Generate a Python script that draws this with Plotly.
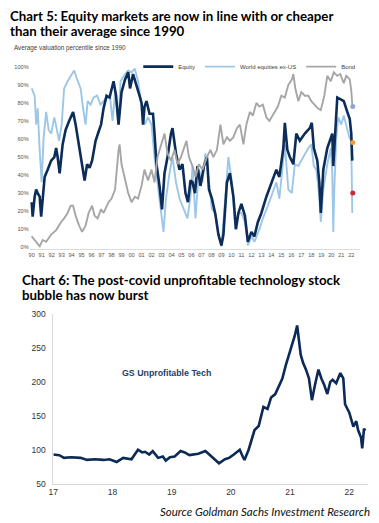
import plotly.graph_objects as go

W, H = 379, 523

# ---------------- Chart 5 data (valuation percentile, %) ----------------
eq_x = [1990.0, 1990.1, 1990.3, 1990.45, 1990.6, 1990.8, 1990.95, 1991.1, 1991.3, 1991.6, 1991.95,
        1992.27, 1992.45, 1992.6, 1992.8, 1993.1, 1993.4, 1993.75, 1994.15, 1994.4, 1994.75,
        1995.05, 1995.3, 1995.55, 1995.8, 1996.05, 1996.4, 1996.7, 1996.95, 1997.2, 1997.5,
        1997.8, 1998.2, 1998.45, 1998.7, 1999.0, 1999.35, 1999.67, 1999.85, 2000.15, 2000.5,
        2000.8, 2001.0, 2001.15, 2001.3, 2001.5, 2001.8, 2002.15, 2002.3, 2002.5, 2002.8,
        2003.05, 2003.3, 2003.6, 2003.95, 2004.1, 2004.45, 2004.8, 2005.1, 2005.4, 2005.65,
        2005.9, 2006.1, 2006.35, 2006.6, 2006.9, 2007.25, 2007.55, 2007.75, 2008.05, 2008.4,
        2008.7, 2009.0, 2009.2, 2009.55, 2009.85, 2010.2, 2010.45, 2010.7, 2011.0, 2011.35,
        2011.65, 2012.0, 2012.3, 2012.65, 2013.0, 2013.5, 2014.0, 2014.5, 2014.8, 2015.2,
        2015.35, 2015.6, 2015.85, 2016.2, 2016.5, 2016.85, 2017.35, 2017.85, 2018.05, 2018.25,
        2018.6, 2018.8, 2018.95, 2019.2, 2019.6, 2019.95, 2020.1, 2020.2, 2020.3, 2020.45,
        2020.6, 2020.95, 2021.25, 2021.6, 2021.85, 2022.0, 2022.1]
eq_y = [25, 17, 28, 32, 30, 28, 17, 25, 39, 43, 48,
        50, 55, 50, 41, 57, 65, 70, 75, 68, 55,
        45, 37, 46, 44, 48, 59, 64, 68, 77, 84,
        83, 92, 84, 68, 86, 93, 97, 88, 96, 90,
        84, 80, 68, 78, 81, 74, 74, 63, 46, 34,
        21, 41, 50, 63, 66, 52, 43, 46, 30, 25,
        37, 36, 30, 45, 34, 45, 50, 32, 27, 18,
        7, 1, 7, 36, 41, 28, 10, 19, 24, 17.5,
        3, 8.5, 6, 14, 19, 28, 36, 43, 39, 55,
        69, 54, 50, 46, 63, 59, 63, 66, 69, 55,
        48, 36, 19, 43, 55, 61, 63, 45, 55, 75,
        83, 82, 81, 75, 71, 63, 48]

wx_x = [1990.0, 1990.3, 1990.45, 1990.6, 1990.8, 1991.0, 1991.2, 1991.45, 1991.7, 1991.95,
        1992.27, 1992.55, 1992.75, 1993.0, 1993.25, 1993.6, 1993.9, 1994.25, 1994.55, 1994.9,
        1995.15, 1995.4, 1995.6, 1995.9, 1996.2, 1996.55, 1996.9, 1997.2, 1997.5, 1997.85,
        1998.1, 1998.35, 1998.7, 1998.9, 1999.35, 1999.67, 2000.0, 2000.33, 2000.65, 2001.0,
        2001.3, 2001.65, 2002.0, 2002.3, 2002.6, 2002.95, 2003.2, 2003.45, 2003.8, 2004.1,
        2004.45, 2004.8, 2005.1, 2005.4, 2005.6, 2005.9, 2006.1, 2006.4, 2006.75, 2007.1,
        2007.4, 2007.75, 2008.05, 2008.4, 2008.7, 2009.0, 2009.4, 2009.7, 2010.05, 2010.4,
        2010.7, 2011.0, 2011.35, 2011.65, 2012.0, 2012.3, 2012.8, 2013.15, 2013.65, 2014.15,
        2014.5, 2014.8, 2015.2, 2015.35, 2015.7, 2016.05, 2016.35, 2016.7, 2017.2, 2017.7,
        2018.0, 2018.25, 2018.5, 2018.8, 2018.95, 2019.2, 2019.6, 2019.95, 2020.1, 2020.2,
        2020.3, 2020.5, 2020.7, 2021.0, 2021.25, 2021.55, 2021.8, 2022.0, 2022.1]
wx_y = [88, 84, 68, 77, 54, 36, 61, 75, 65, 63,
        72, 63, 59, 68, 88, 92, 95, 98, 93, 88,
        77, 68, 81, 79, 83, 84, 79, 81, 83, 83,
        70, 86, 68, 92, 96, 98, 97, 99, 92, 79,
        68, 72, 68, 50, 36, 21, 8.5, 27, 41, 50,
        36, 27, 23, 19, 16, 28, 45, 16, 43, 36,
        52, 37, 21, 19, 7, 0.5, 32, 50, 36, 10,
        19, 19, 14, 1, 6, 3, 10, 16, 23, 30,
        36, 27, 48, 57, 32, 30, 46, 45, 50, 55,
        57, 45, 43, 28, 14, 32, 46, 55, 41, 8.5,
        32, 61, 72, 68, 73, 66, 61, 59, 19]

bd_x = [1990.0, 1990.45, 1990.8, 1991.1, 1991.45, 1991.95, 1992.45, 1992.95, 1993.25, 1993.6,
        1993.9, 1994.15, 1994.4, 1994.75, 1995.05, 1995.4, 1995.7, 1996.05, 1996.3, 1996.6,
        1996.95, 1997.2, 1997.7, 1998.0, 1998.35, 1998.7, 1998.8, 1999.0, 1999.35, 1999.67,
        2000.0, 2000.33, 2000.65, 2001.0, 2001.3, 2001.65, 2002.0, 2002.3, 2002.6, 2002.95,
        2003.3, 2003.6, 2003.95, 2004.3, 2004.6, 2004.95, 2005.25, 2005.5, 2005.75, 2006.1,
        2006.4, 2006.75, 2007.1, 2007.55, 2007.9, 2008.2, 2008.55, 2008.9, 2009.2, 2009.55,
        2009.85, 2010.2, 2010.55, 2010.85, 2011.2, 2011.5, 2011.85, 2012.15, 2012.5, 2012.8,
        2013.15, 2013.5, 2013.8, 2014.15, 2014.65, 2015.0, 2015.35, 2015.7, 2016.05, 2016.2,
        2016.4, 2016.7, 2017.0, 2017.35, 2017.7, 2018.0, 2018.3, 2018.65, 2018.95, 2019.3,
        2019.6, 2019.95, 2020.25, 2020.6, 2020.9, 2021.25, 2021.5, 2021.85, 2022.0, 2022.1]
bd_y = [6, 3, 0.5, 4, 3, 7, 9.5, 14, 16, 19,
        23, 23, 17.5, 12, 8.5, 12, 19, 23, 17.5, 16,
        21, 19, 25, 27, 32, 54, 57, 46, 37, 30,
        25, 28, 27, 34, 43, 37, 43, 36, 50, 57,
        63, 52, 48, 54, 46, 50, 55, 59, 50, 45,
        39, 46, 43, 50, 54, 50, 54, 68, 57, 61,
        59, 61, 66, 68, 57, 68, 75, 73, 80, 78,
        79, 72, 70, 73, 78, 84, 83, 90, 93, 96,
        88, 81, 86, 84, 84, 81, 79, 77, 76, 84,
        95, 92, 97, 95, 96, 91, 95, 93, 87, 79]

end_x = [2022.15, 2022.15, 2022.15]
end_y = [78, 58, 30]
end_colors = ["#8ea8cf", "#f29a36", "#c9283a"]

years5 = list(range(1990, 2023))
years5_labels = [f"{y % 100:02d}" for y in years5]
pct_vals = list(range(0, 101, 10))
pct_labels = [f"{v}%" for v in pct_vals]

# ---------------- Chart 6 data (GS Unprofitable Tech index) ----------------
tech_x = [2017.0, 2017.1, 2017.18, 2017.3, 2017.46, 2017.57, 2017.7, 2017.85, 2017.95, 2018.07,
          2018.18, 2018.32, 2018.43, 2018.5, 2018.55, 2018.62, 2018.68, 2018.77, 2018.85, 2018.9,
          2018.97, 2019.05, 2019.15, 2019.22, 2019.3, 2019.35, 2019.45, 2019.57, 2019.65, 2019.8,
          2019.9, 2019.97, 2020.05, 2020.15, 2020.2, 2020.23, 2020.3, 2020.4, 2020.47, 2020.55,
          2020.62, 2020.68, 2020.75, 2020.8, 2020.87, 2020.93, 2021.02, 2021.08, 2021.12, 2021.15,
          2021.18, 2021.22, 2021.27, 2021.32, 2021.37, 2021.42, 2021.48, 2021.53, 2021.58, 2021.63,
          2021.68, 2021.72, 2021.78, 2021.85, 2021.9, 2021.93, 2022.0, 2022.07, 2022.12, 2022.15,
          2022.2, 2022.22, 2022.25, 2022.27]
tech_y = [93, 92, 88, 89, 88, 85, 86, 85, 86, 82,
          88, 86, 100, 96, 97, 93, 98, 88, 90, 84,
          89, 90, 98, 96, 92, 93, 94, 98, 92, 80,
          86, 88, 93, 100, 90, 85, 100, 129, 135, 163,
          160, 177, 182, 192, 205, 225, 249, 268, 283, 265,
          240, 228, 218, 205, 173, 195, 218, 205, 195, 182,
          200, 203, 198, 213, 205, 167, 155, 134, 142, 129,
          118, 102, 131, 128]

years6 = [2017, 2018, 2019, 2020, 2021, 2022]
years6_labels = ["17", "18", "19", "20", "21", "22"]
tech_ticks = [50, 100, 150, 200, 250, 300]


def px_x(p):
    return p / W


def px_y(p):
    return 1 - p / H


TICKFONT = "Liberation Sans, Arial, sans-serif"
TITLEFONT = "Lato, Open Sans, sans-serif"

fig = go.Figure()

fig.add_trace(go.Scatter(x=wx_x, y=wx_y, mode="lines", name="World equities ex-US",
                         line=dict(color="#9cc7e7", width=1.9), legendrank=2,
                         xaxis="x", yaxis="y"))
fig.add_trace(go.Scatter(x=eq_x, y=eq_y, mode="lines", name="Equity",
                         line=dict(color="#0c2c5a", width=2.6), legendrank=1,
                         xaxis="x", yaxis="y"))
fig.add_trace(go.Scatter(x=bd_x, y=bd_y, mode="lines", name="Bond",
                         line=dict(color="#a6a6a6", width=1.9), legendrank=3,
                         xaxis="x", yaxis="y"))
fig.add_trace(go.Scatter(x=end_x, y=end_y, mode="markers", showlegend=False,
                         marker=dict(color=end_colors, size=5),
                         xaxis="x", yaxis="y"))

fig.add_trace(go.Scatter(x=tech_x, y=tech_y, mode="lines", showlegend=False,
                         name="GS Unprofitable Tech",
                         line=dict(color="#0b2a57", width=2.6),
                         xaxis="x2", yaxis="y2"))

annotations = [
    dict(text="<b>Chart 5: Equity markets are now in line with or cheaper</b>",
         x=px_x(3), y=px_y(11), xanchor="left", yanchor="middle"),
    dict(text="<b>than their average since 1990</b>",
         x=px_x(3), y=px_y(26), xanchor="left", yanchor="middle"),
    dict(text="<b>Chart 6: The post-covid unprofitable technology stock</b>",
         x=px_x(15), y=px_y(280.5), xanchor="left", yanchor="middle"),
    dict(text="<b>bubble has now burst</b>",
         x=px_x(15), y=px_y(295.5), xanchor="left", yanchor="middle"),
]
for a in annotations:
    a.update(xref="paper", yref="paper", showarrow=False,
             font=dict(family=TITLEFONT, size=13.3, color="#000000"))

annotations.append(dict(text="Average valuation percentile since 1990", xref="paper", yref="paper",
                        x=px_x(7), y=px_y(44), xanchor="left", yanchor="middle", showarrow=False,
                        font=dict(family=TICKFONT, size=6.3, color="#404040")))
annotations.append(dict(text="Source Goldman Sachs Investment Research", xref="paper",
                        yref="paper", x=px_x(372), y=px_y(516), xanchor="right", yanchor="middle",
                        showarrow=False,
                        font=dict(family=TITLEFONT, size=11.5, color="#111111", style="italic")))
annotations.append(dict(text="<b>GS Unprofitable Tech</b>", xref="x2", yref="y2",
                        x=2018.13, y=213, xanchor="left", yanchor="middle", showarrow=False,
                        font=dict(family=TICKFONT, size=8.8, color="#1f3d6e")))

fig.update_layout(
    width=W, height=H,
    margin=dict(l=0, r=0, t=0, b=0),
    paper_bgcolor="white", plot_bgcolor="white",
    showlegend=True,
    legend=dict(orientation="h", x=px_x(360), xanchor="right", y=px_y(48), yanchor="top",
                font=dict(family=TICKFONT, size=6, color="#404040"),
                bgcolor="rgba(0,0,0,0)", itemwidth=30, tracegroupgap=0),
    annotations=annotations,
    xaxis=dict(domain=[px_x(25), px_x(360)], range=[1989.8, 2022.9], anchor="y",
               tickmode="array", tickvals=years5, ticktext=years5_labels,
               tickfont=dict(family=TICKFONT, size=5.6, color="#555555"),
               showgrid=False, zeroline=False, showline=True, linecolor="#dcdcdc",
               linewidth=1, ticks="", fixedrange=True),
    yaxis=dict(domain=[px_y(248.8), px_y(61.2)], range=[-1, 101], anchor="x",
               tickmode="array", tickvals=pct_vals, ticktext=pct_labels,
               tickfont=dict(family=TICKFONT, size=5.6, color="#555555"),
               showgrid=False, zeroline=False, showline=False, ticks="", fixedrange=True),
    xaxis2=dict(domain=[px_x(49), px_x(368)], range=[2017, 2022.32], anchor="y2",
                tickmode="array", tickvals=years6, ticktext=years6_labels,
                tickfont=dict(family=TICKFONT, size=8.5, color="#333333"),
                showgrid=False, zeroline=False, showline=True, linecolor="#d9d9d9",
                linewidth=1, ticks="", fixedrange=True),
    yaxis2=dict(domain=[px_y(488), px_y(315)], range=[50, 300], anchor="x2",
                tickmode="array", tickvals=tech_ticks,
                tickfont=dict(family=TICKFONT, size=8.5, color="#333333"),
                showgrid=False, zeroline=False, showline=True, linecolor="#d9d9d9",
                linewidth=1, ticks="", ticklabelstandoff=5, fixedrange=True),
)

fig.write_html("out.html",
               config={"displayModeBar": False, "staticPlot": True},
               post_script="document.body.style.margin='0';document.body.style.padding='0';")
